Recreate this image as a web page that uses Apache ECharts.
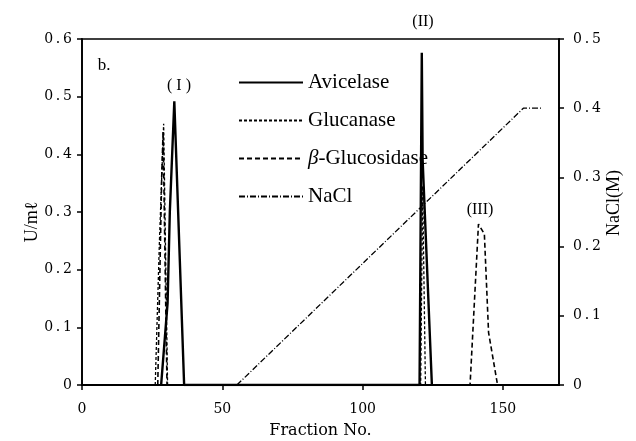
<!DOCTYPE html>
<html>
<head>
<meta charset="utf-8">
<script src="https://cdn.jsdelivr.net/npm/echarts@6/dist/echarts.min.js"></script>
<style>
  html, body { margin: 0; padding: 0; background: #fff; }
  #chart { width: 636px; height: 441px; }
</style>
</head>
<body>
<div id="chart"></div>
<script>
// fraction no. / activity (U/ml) pairs
const avicelase = [[28.2, 0], [30.5, 0.142], [31.3, 0.3], [32.9, 0.492], [36.4, 0],
  [120.3, 0], [121.1, 0.576], [121.4, 0.39], [124.7, 0]]
const glucanase = [[26.1, 0], [27.6, 0.25], [29.1, 0.453], [30.5, 0],
  [120.7, 0], [121.4, 0.345], [122.4, 0]]
const glucosidase = [[27.0, 0], [28.4, 0.36], [28.9, 0.44], [29.8, 0.15], [30.3, 0],
  [138.3, 0], [141.3, 0.279], [143.4, 0.262], [144.9, 0.091], [148.1, 0]]
// NaCl gradient (M)
const nacl = [[55.2, 0], [157.3, 0.4], [164.3, 0.4]]

const xTicks = { min: 0, max: 170, interval: 50 }
const leftTicks = { min: 0, max: 0.6, interval: 0.1 }
const rightTicks = { min: 0, max: 0.5, interval: 0.1 }

const serif = '"Liberation Serif", "DejaVu Serif", serif'
const tickFont = '"DejaVu Serif", serif'

const fmt = v => v === 0 ? '0' : v.toFixed(1).replace('.', '\u2009.\u2009')

const axisCommon = {
  axisLine: { show: true, lineStyle: { color: '#000', width: 1.8 } },
  axisTick: { show: true, inside: false, length: 5, lineStyle: { color: '#000', width: 1.5 } },
  splitLine: { show: false },
  axisLabel: { color: '#000', fontFamily: tickFont, fontSize: 14, formatter: fmt, margin: 10 }
}

const chart = echarts.init(document.getElementById('chart'))
chart.setOption({
  backgroundColor: '#fff',
  animation: false,
  grid: {
    left: 82, right: 77, top: 39, bottom: 56,
    outerBoundsMode: 'none',
    show: true, borderColor: '#000', borderWidth: 1.5
  },
  legend: {
    orient: 'vertical',
    left: 238,
    top: 72,
    padding: 0,
    itemWidth: 64,
    itemHeight: 14,
    itemGap: 17,
    data: ['Avicelase', 'Glucanase', 'β-Glucosidase', 'NaCl'],
    itemStyle: { color: 'transparent', borderWidth: 0 },
    formatter: name => name.startsWith('β') ? '{b|β}' + name.slice(1) : name,
    textStyle: {
      color: '#000', fontFamily: serif, fontSize: 21,
      rich: { b: { fontStyle: 'italic', fontFamily: serif, fontSize: 21, color: '#000' } }
    }
  },
  xAxis: {
    type: 'value',
    ...xTicks,
    ...axisCommon,
    axisLabel: { ...axisCommon.axisLabel, showMaxLabel: false, formatter: v => String(v), margin: 17 },
    name: 'Fraction No.',
    nameLocation: 'middle',
    nameGap: 38,
    nameTextStyle: { color: '#000', fontFamily: tickFont, fontSize: 16 }
  },
  yAxis: [
    { type: 'value', position: 'left', ...leftTicks, ...axisCommon },
    { type: 'value', position: 'right', ...rightTicks, ...axisCommon, axisLabel: { ...axisCommon.axisLabel, margin: 14 } }
  ],
  graphic: [
    { type: 'text', x: 104, y: 66, style: { text: 'b.', font: '17px ' + serif, fill: '#000', align: 'center', verticalAlign: 'middle' } },
    { type: 'text', x: 179, y: 86, style: { text: '( I )', font: '16px ' + serif, fill: '#000', align: 'center', verticalAlign: 'middle' } },
    { type: 'text', x: 423, y: 22, style: { text: '(II)', font: '16px ' + serif, fill: '#000', align: 'center', verticalAlign: 'middle' } },
    { type: 'text', x: 480, y: 210, style: { text: '(III)', font: '16px ' + serif, fill: '#000', align: 'center', verticalAlign: 'middle' } },
    { type: 'text', x: 32, y: 222, rotation: Math.PI / 2, style: { text: 'U/m\u2113', font: '18px ' + serif, fill: '#000', align: 'center', verticalAlign: 'middle' } },
    { type: 'text', x: 614, y: 203, rotation: Math.PI / 2, style: { text: 'NaCl(M)', font: '18px ' + serif, fill: '#000', align: 'center', verticalAlign: 'middle' } }
  ],
  series: [
    {
      name: 'Avicelase', type: 'line', data: avicelase, symbol: 'none',
      lineStyle: { color: '#000', width: 2.4 }, itemStyle: { color: '#000' }
    },
    {
      name: 'Glucanase', type: 'line', data: glucanase, symbol: 'none',
      lineStyle: { color: '#000', width: 1.3, type: [3, 2] }, itemStyle: { color: '#000' }
    },
    {
      name: 'β-Glucosidase', type: 'line', data: glucosidase, symbol: 'none',
      lineStyle: { color: '#000', width: 1.6, type: [5, 3] }, itemStyle: { color: '#000' }
    },
    {
      name: 'NaCl', type: 'line', yAxisIndex: 1, data: nacl, symbol: 'none',
      lineStyle: { color: '#000', width: 1.3, type: [6, 2, 1, 2] }, itemStyle: { color: '#000' }
    }
  ]
})
</script>
</body>
</html>
